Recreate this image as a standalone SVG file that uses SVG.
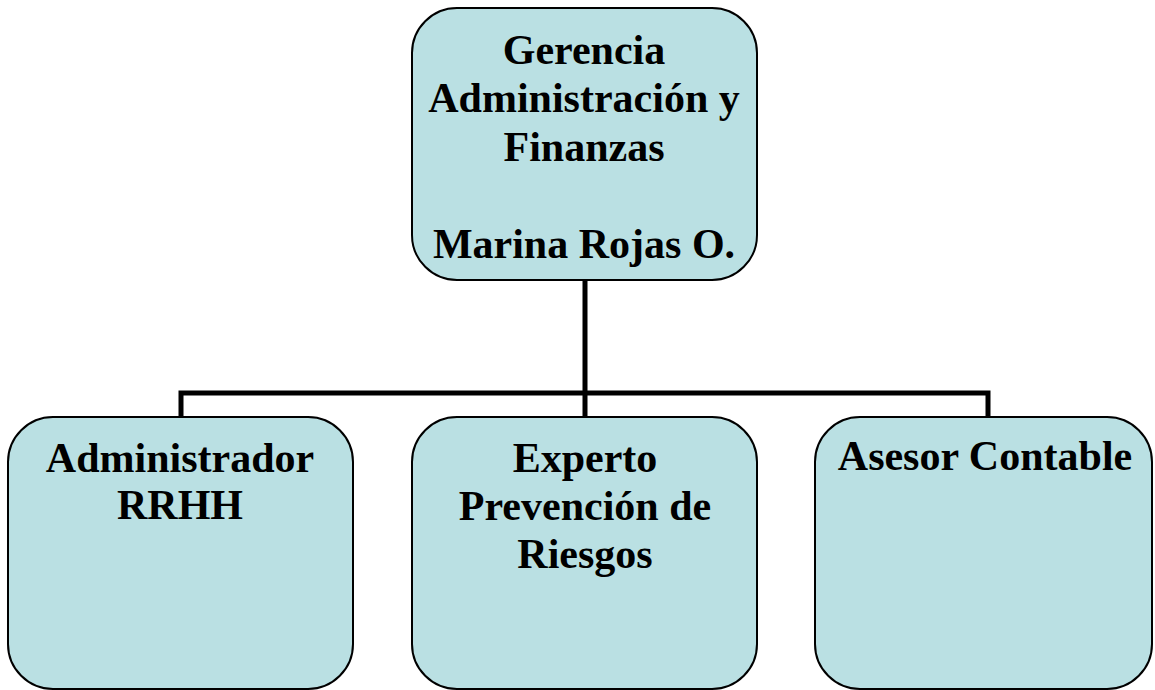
<svg xmlns="http://www.w3.org/2000/svg" width="1155" height="690" viewBox="0 0 1155 690">
<style>
.box{fill:#bae0e3;stroke:#000;stroke-width:2}
.t{font-family:"Liberation Serif","Times New Roman",serif;font-weight:bold;font-size:42px;fill:#000;text-anchor:middle}
.c{fill:none;stroke:#000;stroke-width:5}
</style>
<rect width="1155" height="690" fill="#fff"/>
<g id="connectors">
<path class="c" d="M585 280 V393 M181 417 V393 H988 V417 M585 393 V417"/>
</g>
<g id="gerencia">
<rect class="box" x="412" y="8" width="345" height="272" rx="45"/>
<text class="t" x="584" y="64">Gerencia</text>
<text class="t" x="584" y="112">Administración y</text>
<text class="t" x="584" y="161">Finanzas</text>
<text class="t" x="584" y="258">Marina Rojas O.</text>
</g>
<g id="rrhh">
<rect class="box" x="8" y="417" width="345" height="272" rx="45"/>
<text class="t" x="180" y="472">Administrador</text>
<text class="t" x="180" y="519">RRHH</text>
</g>
<g id="prevencion">
<rect class="box" x="412" y="417" width="345" height="272" rx="45"/>
<text class="t" x="585" y="472">Experto</text>
<text class="t" x="585" y="520">Prevención de</text>
<text class="t" x="585" y="568">Riesgos</text>
</g>
<g id="contable">
<rect class="box" x="815" y="417" width="337" height="272" rx="45"/>
<text class="t" x="985" y="470">Asesor Contable</text>
</g>
</svg>
